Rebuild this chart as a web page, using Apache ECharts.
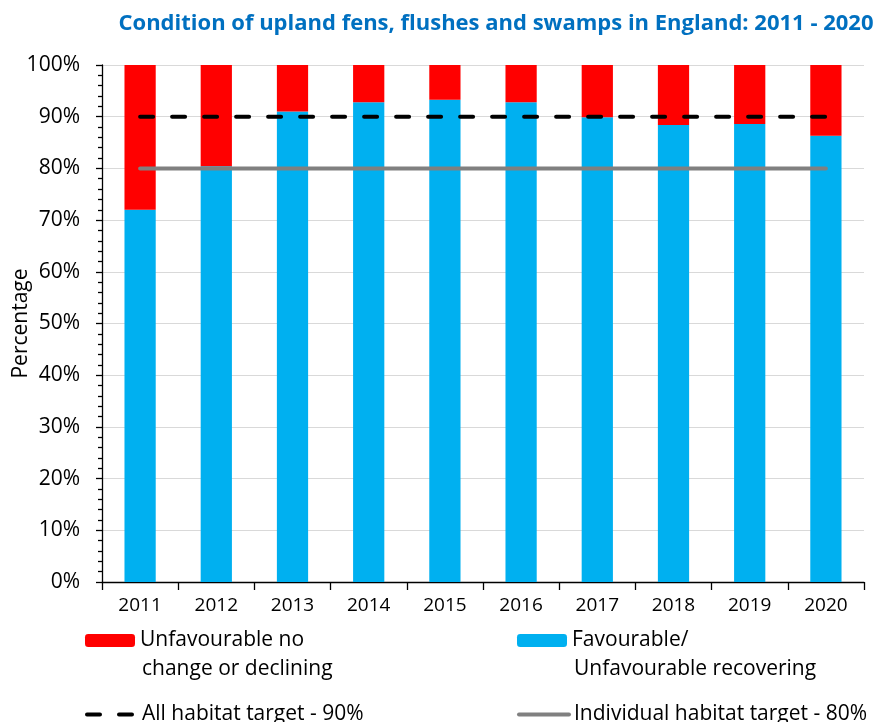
<!DOCTYPE html>
<html><head><meta charset="utf-8">
<script src="https://cdn.jsdelivr.net/npm/echarts@6/dist/echarts.min.js"></script>
<style>html,body{margin:0;padding:0;background:#fff}#c{width:881px;height:722px}</style>
</head><body><div id="c"></div>
<script>
const categories = ['2011','2012','2013','2014','2015','2016','2017','2018','2019','2020'];
const favourable = [72, 80.4, 91, 92.8, 93.3, 92.8, 89.9, 88.4, 88.6, 86.3];
const allTarget = [90,90,90,90,90,90,90,90,90,90];
const indivTarget = [80,80,80,80,80,80,80,80,80,80];
const unfavourable = favourable.map(v => +(100 - v).toFixed(1));

const FONT = '"Open Sans", sans-serif';
const chart = echarts.init(document.getElementById('c'), null, {renderer:'canvas'});
const legText = {fontFamily: FONT, fontSize: 21, color:'#000'};
function leg(name, label, left, top){
  return {data:[{name:name}], left:left, top:top, orient:'horizontal',
    itemWidth:50, itemHeight:13, itemGap:0, textStyle:legText, selectedMode:false, padding:0,
    formatter: function(){ return label; }};
}
chart.setOption({
  animation:false,
  title:{text:'Condition of upland fens, flushes and swamps in England: 2011 - 2020', left:491, top:8, textAlign:'center',
    textStyle:{fontFamily:FONT, fontSize:22, fontWeight:'bold', color:'#0070C0'}},
  grid:{left:102, right:17, top:65, bottom:140, outerBoundsMode:'none', containLabel:false},
  legend:[
    leg('Unfavourable no change or declining', 'Unfavourable no', 85, 630),
    leg('Favourable/ Unfavourable recovering', 'Favourable/', 517, 630),
    Object.assign(leg('All habitat target - 90%', 'All habitat target - 90%', 85, 704), {itemStyle:{opacity:0}, lineStyle:{width:4}}),
    Object.assign(leg('Individual habitat target - 80%', 'Individual habitat target - 80%', 517, 704), {itemStyle:{opacity:0}, lineStyle:{width:4}})
  ],
  graphic:[
    {type:'text', left:142, top:659, style:{text:'change or declining', font:'21px "Open Sans", sans-serif', fill:'#000'}},
    {type:'text', left:574, top:659, style:{text:'Unfavourable recovering', font:'21px "Open Sans", sans-serif', fill:'#000'}}
  ],
  xAxis:{type:'category', data:categories,
    axisLine:{lineStyle:{color:'#000', width:1.3}},
    axisTick:{show:true, length:8, lineStyle:{color:'#000', width:1.3}},
    axisLabel:{fontFamily:FONT, fontSize:19, color:'#000', margin:14}},
  yAxis:{type:'value', min:0, max:100, interval:10,
    name:'Percentage', nameLocation:'middle', nameGap:70, nameRotate:90, nameMoveOverlap:false,
    nameTextStyle:{fontFamily:FONT, fontSize:21, color:'#000'},
    axisLine:{show:true, lineStyle:{color:'#000', width:1.3}},
    axisTick:{show:true, length:6, lineStyle:{color:'#000', width:1.3}},
    minorTick:{show:true, splitNumber:5, length:4, lineStyle:{color:'#000', width:1.3}},
    splitLine:{lineStyle:{color:'#d9d9d9', width:1}},
    axisLabel:{fontFamily:FONT, fontSize:21, color:'#000', margin:22, formatter:'{value}%'}},
  series:[
    {name:'Favourable/ Unfavourable recovering', type:'bar', stack:'s', data:favourable, barWidth:'41%',
      itemStyle:{color:'#00B0F0'}},
    {name:'Unfavourable no change or declining', type:'bar', stack:'s', data:unfavourable,
      itemStyle:{color:'#FF0000'}},
    {name:'All habitat target - 90%', type:'line', data:allTarget, symbol:'none',
      lineStyle:{color:'#000', width:4, type:[13,19], cap:'round'}, itemStyle:{color:'#000'}, z:5},
    {name:'Individual habitat target - 80%', type:'line', data:indivTarget, symbol:'none',
      lineStyle:{color:'#808080', width:4, cap:'round'}, itemStyle:{color:'#808080'}, z:4}
  ]
});
</script></body></html>
